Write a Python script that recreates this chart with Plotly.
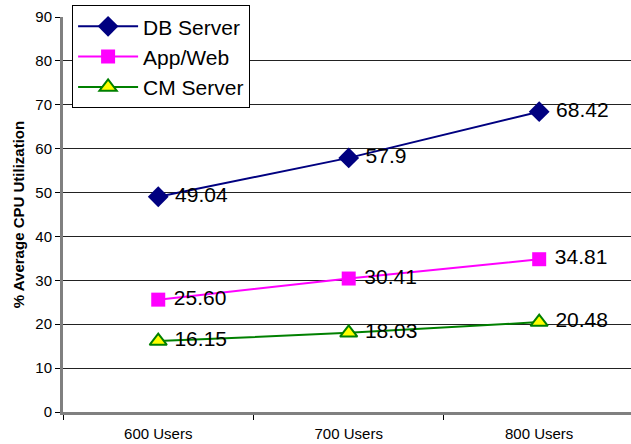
import plotly.graph_objects as go

categories = ["600 Users", "700 Users", "800 Users"]
db_server = [49.04, 57.9, 68.42]
app_web = [25.60, 30.41, 34.81]
cm_server = [16.15, 18.03, 20.48]
db_labels = ["49.04", "57.9", "68.42"]
app_labels = ["25.60", "30.41", "34.81"]
cm_labels = ["16.15", "18.03", "20.48"]
y_ticks = [0, 10, 20, 30, 40, 50, 60, 70, 80, 90]

FONT = "Liberation Sans, Arial, sans-serif"
LABEL_FONT = dict(size=21, color="black", family=FONT)

fig = go.Figure()
fig.add_trace(go.Scatter(
    x=categories, y=db_server, name="DB Server", mode="lines+markers+text",
    text=db_labels, texttemplate=" %{text}", textposition="middle right",
    textfont=LABEL_FONT,
    line=dict(color="#000080", width=2),
    marker=dict(symbol="diamond", size=16, color="#000080"),
))
fig.add_trace(go.Scatter(
    x=categories, y=app_web, name="App/Web", mode="lines+markers+text",
    text=app_labels, texttemplate=" %{text}", textposition="middle right",
    textfont=LABEL_FONT,
    line=dict(color="#FF00FF", width=2),
    marker=dict(symbol="square", size=14, color="#FF00FF"),
))
fig.add_trace(go.Scatter(
    x=categories, y=cm_server, name="CM Server", mode="lines+markers+text",
    text=cm_labels, texttemplate=" %{text}", textposition="middle right",
    textfont=LABEL_FONT,
    line=dict(color="#008000", width=2),
    marker=dict(symbol="triangle-up", size=15, color="#FFFF00",
                line=dict(color="#008000", width=2)),
))

fig.update_layout(
    width=631, height=444,
    margin=dict(l=63, r=0, t=17, b=32),
    paper_bgcolor="white", plot_bgcolor="white",
    font=dict(family=FONT, color="black", size=15),
    showlegend=True,
    legend=dict(
        x=0.016, y=1.03, xanchor="left", yanchor="top",
        bgcolor="white", bordercolor="black", borderwidth=1,
        font=dict(size=21, family=FONT, color="black"),
        itemwidth=60,
    ),
    xaxis=dict(
        type="category", range=[-0.5, 2.482],
        showline=True, linecolor="#808080", linewidth=3,
        ticks="outside", tickson="boundaries", ticklen=5, tickcolor="black",
        showgrid=False, tickfont=dict(size=15), ticklabelstandoff=6,
    ),
    yaxis=dict(
        range=[0, 90], tickvals=y_ticks,
        showline=True, linecolor="#808080", linewidth=3,
        ticks="outside", ticklen=5, tickcolor="black",
        showgrid=True, gridcolor="#222222", gridwidth=1, zeroline=False,
        tickfont=dict(size=15), ticklabelstandoff=0,
        title=dict(text="<b>% Average CPU Utilization</b>", font=dict(size=15), standoff=8),
    ),
)

fig.write_html("out.html")
